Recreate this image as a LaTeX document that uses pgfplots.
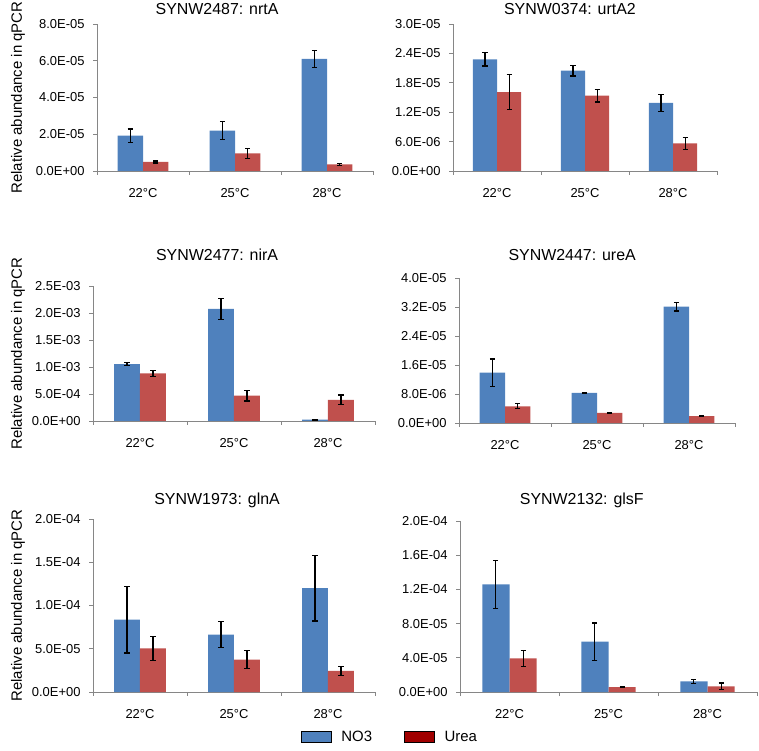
\documentclass[border=0pt]{standalone}
\usepackage{pgfplots}
\pgfplotsset{compat=1.18}
\usepackage{pgfplotstable}
\usepackage{fontspec}
\setmainfont{Liberation Sans}

\definecolor{no3blue}{HTML}{4F81BD}
\definecolor{ureared}{HTML}{C0504D}
\definecolor{legred}{HTML}{A00000}
\definecolor{axisgray}{HTML}{868686}

% x: 0=22C 1=25C 2=28C ; values with standard errors
\pgfplotstableread{
x no3 no3e urea ureae
0 1.92e-5 0.36e-5 0.49e-5 0.05e-5
1 2.20e-5 0.50e-5 0.96e-5 0.27e-5
2 6.10e-5 0.47e-5 0.36e-5 0.05e-5
}\nrtA
\pgfplotstableread{
x no3 no3e urea ureae
0 2.28e-5 0.136e-5 1.61e-5 0.36e-5
1 2.05e-5 0.11e-5 1.54e-5 0.13e-5
2 1.39e-5 0.17e-5 0.565e-5 0.125e-5
}\urtA
\pgfplotstableread{
x no3 no3e urea ureae
0 1.053e-3 0.025e-3 0.88e-3 0.05e-3
1 2.075e-3 0.19e-3 0.47e-3 0.10e-3
2 0.025e-3 0.005e-3 0.39e-3 0.09e-3
}\nirA
\pgfplotstableread{
x no3 no3e urea ureae
0 1.39e-5 0.375e-5 0.46e-5 0.07e-5
1 0.83e-5 0.02e-5 0.28e-5 0.02e-5
2 3.21e-5 0.12e-5 0.19e-5 0.01e-5
}\ureA
\pgfplotstableread{
x no3 no3e urea ureae
0 0.836e-4 0.385e-4 0.505e-4 0.137e-4
1 0.663e-4 0.15e-4 0.374e-4 0.104e-4
2 1.20e-4 0.38e-4 0.243e-4 0.048e-4
}\glnA
\pgfplotstableread{
x no3 no3e urea ureae
0 1.258e-4 0.278e-4 0.392e-4 0.093e-4
1 0.59e-4 0.217e-4 0.058e-4 0.008e-4
2 0.124e-4 0.02e-4 0.066e-4 0.04e-4
}\glsF

\pgfplotsset{
  panel/.style={
    scale only axis, anchor=south west,
    ybar, bar width=0.275,
    xmin=-0.5, xmax=2.5, ymin=0,
    enlarge x limits=false, clip=false,
    axis x line*=bottom, axis y line*=left,
    axis line style={draw=axisgray, line width=0.8bp},
    tick align=outside, major tick length=4bp,
    tick style={draw=axisgray, line width=0.8bp},
    xtick={-0.5,0.5,1.5,2.5}, xticklabels={},
    extra x ticks={0,1,2}, extra x tick labels={22°C,25°C,28°C},
    extra x tick style={major tick length=0bp, xticklabel style={yshift=-14bp}},
    scaled y ticks=false,
    ticklabel style={font=\fontsize{13}{15}\selectfont},
    yticklabel style={xshift=-5bp},
    title style={font=\fontsize{16}{18}\selectfont, anchor=center, yshift=-6pt},
    ylabel style={font=\fontsize{15}{17}\selectfont, anchor=center},
  },
  bars/.style={
    draw=none, fill=#1, forget plot,
    error bars/.cd, y dir=both, y explicit,
    error bar style={black, line width=1.2bp},
    error mark options={black, line width=1.2bp, mark size=2.6bp, rotate=90},
  },
}

\begin{document}
\begin{tikzpicture}
\useasboundingbox (0,0) rectangle (759bp,751bp);

% row 1
\begin{axis}[panel, at={(97bp,580bp)}, width=276bp, height=147bp,
  ymax=8e-5, ytick={0,2e-5,4e-5,6e-5,8e-5},
  yticklabels={0.0E+00,2.0E-05,4.0E-05,6.0E-05,8.0E-05},
  title={SYNW2487: nrtA}, title style={at={(axis description cs:0.435,1.10)}},
  ylabel={Relative abundance in qPCR}, ylabel style={at={(axis description cs:-0.286,0.5)}}]
\addplot[bar shift=-0.1375, bars=no3blue] table[x=x, y=no3, y error=no3e] {\nrtA};
\addplot[bar shift=0.1375, bars=ureared] table[x=x, y=urea, y error=ureae] {\nrtA};
\end{axis}

\begin{axis}[panel, at={(453bp,580bp)}, width=264bp, height=147bp,
  ymax=3e-5, ytick={0,6e-6,1.2e-5,1.8e-5,2.4e-5,3e-5},
  yticklabels={0.0E+00,6.0E-06,1.2E-05,1.8E-05,2.4E-05,3.0E-05},
  title={SYNW0374: urtA2}, title style={at={(axis description cs:0.443,1.10)}}]
\addplot[bar shift=-0.1375, bars=no3blue] table[x=x, y=no3, y error=no3e] {\urtA};
\addplot[bar shift=0.1375, bars=ureared] table[x=x, y=urea, y error=ureae] {\urtA};
\end{axis}

% row 2
\begin{axis}[panel, at={(93bp,330bp)}, width=282bp, height=135bp,
  ymax=2.5e-3, ytick={0,5e-4,1e-3,1.5e-3,2e-3,2.5e-3},
  yticklabels={0.0E+00,5.0E-04,1.0E-03,1.5E-03,2.0E-03,2.5E-03},
  title={SYNW2477: nirA}, title style={at={(axis description cs:0.44,1.23)}},
  ylabel={Relative abundance in qPCR}, ylabel style={at={(axis description cs:-0.266,0.5)}}]
\addplot[bar shift=-0.1375, bars=no3blue] table[x=x, y=no3, y error=no3e] {\nirA};
\addplot[bar shift=0.1375, bars=ureared] table[x=x, y=urea, y error=ureae] {\nirA};
\end{axis}

\begin{axis}[panel, at={(459bp,328bp)}, width=276bp, height=145bp,
  ymax=4e-5, ytick={0,8e-6,1.6e-5,2.4e-5,3.2e-5,4e-5},
  yticklabels={0.0E+00,8.0E-06,1.6E-05,2.4E-05,3.2E-05,4.0E-05},
  title={SYNW2447: ureA}, title style={at={(axis description cs:0.41,1.16)}}]
\addplot[bar shift=-0.1375, bars=no3blue] table[x=x, y=no3, y error=no3e] {\ureA};
\addplot[bar shift=0.1375, bars=ureared] table[x=x, y=urea, y error=ureae] {\ureA};
\end{axis}

% row 3
\begin{axis}[panel, at={(93bp,59bp)}, width=282bp, height=173bp,
  ymax=2e-4, ytick={0,5e-5,1e-4,1.5e-4,2e-4},
  yticklabels={0.0E+00,5.0E-05,1.0E-04,1.5E-04,2.0E-04},
  title={SYNW1973: glnA}, title style={at={(axis description cs:0.44,1.11)}},
  ylabel={Relative abundance in qPCR}, ylabel style={at={(axis description cs:-0.266,0.5)}},
  legend columns=2,
  legend image code/.code={\fill[#1] (0bp,-5.5bp) rectangle (30bp,5.5bp);},
  legend style={draw=none, fill=none, at={(axis description cs:1.053,-0.26)}, anchor=center,
    font=\fontsize{15}{17}\selectfont,
    /tikz/every odd column/.append style={column sep=8bp},
    /tikz/every even column/.append style={column sep=30bp}}]
\addplot[bar shift=-0.1375, bars=no3blue] table[x=x, y=no3, y error=no3e] {\glnA};
\addplot[bar shift=0.1375, bars=ureared] table[x=x, y=urea, y error=ureae] {\glnA};
\addlegendimage{fill=no3blue}
\addlegendentry{NO3}
\addlegendimage{fill=legred}
\addlegendentry{Urea}
\end{axis}

\begin{axis}[panel, at={(460bp,59bp)}, width=297bp, height=171bp,
  ymax=2e-4, ytick={0,4e-5,8e-5,1.2e-4,1.6e-4,2e-4},
  yticklabels={0.0E+00,4.0E-05,8.0E-05,1.2E-04,1.6E-04,2.0E-04},
  title={SYNW2132: glsF}, title style={at={(axis description cs:0.41,1.12)}}]
\addplot[bar shift=-0.1375, bars=no3blue] table[x=x, y=no3, y error=no3e] {\glsF};
\addplot[bar shift=0.1375, bars=ureared] table[x=x, y=urea, y error=ureae] {\glsF};
\end{axis}
\end{tikzpicture}
\end{document}
